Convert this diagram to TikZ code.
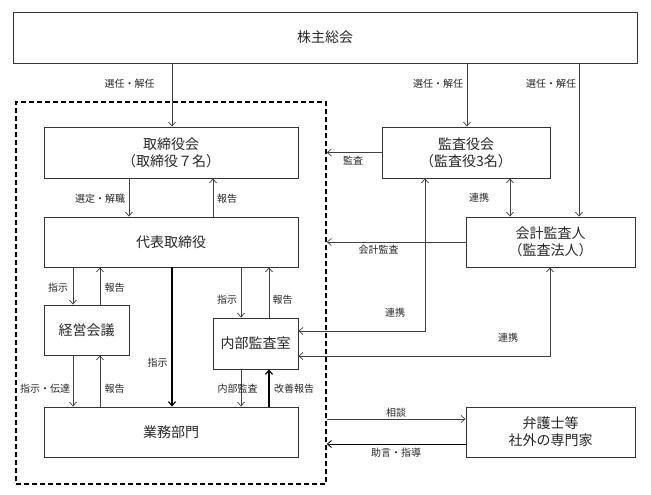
\documentclass[tikz,border=0pt]{standalone}
\usepackage{fontspec}
\setmainfont{Noto Sans CJK JP}
\usetikzlibrary{arrows.meta,calc}
\begin{document}
\begin{tikzpicture}[x=1pt,y=-1pt,
  box/.style 2 args={draw=black!80,line width=0.9pt,minimum width=#1,minimum height=#2,inner sep=0pt,align=center,font=\fontsize{14}{17}\selectfont,text=black!85},
  arr/.style={draw=black!75,line width=0.7pt,-{Straight Barb[length=4pt,width=7pt]}},
  thickarr/.style={draw=black,line width=1.2pt,-{Straight Barb[length=4pt,width=7pt]}},
  biarr/.style={draw=black!75,line width=0.7pt,{Straight Barb[length=4pt,width=7pt]}-{Straight Barb[length=4pt,width=7pt]}},
  lbl/.style={font=\fontsize{10}{12}\selectfont,inner sep=0pt,text=black!85},
  grpbox/.style={draw=black,line width=1.6pt,dash pattern=on 5pt off 3pt,minimum width=310,minimum height=382,inner sep=0pt}
]
\useasboundingbox (0,0) rectangle (651,495);

% group
\node[grpbox] (grp) at (171,293) {};

% boxes
\node[box={624}{51}] (sh) at (325,37.5) {株主総会};
\node[box={254}{51}] (bd) at (171,152.5) {取締役会\\（取締役７名）};
\node[box={168}{51}] (ka) at (466,152.5) {監査役会\\（監査役3名）};
\node[box={254}{50}] (rep) at (171,242) {代表取締役};
\node[box={169}{50}] (aud) at (550.5,242) {会計監査人\\（監査法人）};
\node[box={85}{50}] (mg) at (86.5,330) {経営会議};
\node[box={85}{51}] (ia) at (255.5,343.5) {内部監査室};
\node[box={254}{50}] (ops) at (171,432) {業務部門};
\node[box={169}{50}] (law) at (550.5,432) {弁護士等\\社外の専門家};

% columns and rows
\coordinate (x73) at (73,0);
\coordinate (x100) at (100,0);
\coordinate (x129) at (129,0);
\coordinate (x172) at (172,0);
\coordinate (x213) at (213,0);
\coordinate (x241) at (241,0);
\coordinate (x269) at (269,0);
\coordinate (x425) at (425,0);
\coordinate (x467) at (467,0);
\coordinate (x510) at (510,0);
\coordinate (x550) at (550,0);
\coordinate (x579) at (579,0);
\coordinate (r331) at (0,331);
\coordinate (r356) at (0,356);
\coordinate (r419) at (0,419);
\coordinate (r444) at (0,444);

% connectors
\draw[arr] (sh.south -| x172) -- (bd.north -| x172);
\draw[arr] (sh.south -| x467) -- (ka.north -| x467);
\draw[arr] (sh.south -| x579) -- (aud.north -| x579);
\draw[arr] (bd.south -| x129) -- (rep.north -| x129);
\draw[arr] (rep.north -| x213) -- (bd.south -| x213);
\draw[arr] (ka.west) -- (ka.west -| grp.east);
\draw[biarr] (ka.south -| x510) -- (aud.north -| x510);
\draw[arr] (aud.west) -- (aud.west -| grp.east);
\draw[arr] (rep.south -| x73) -- (mg.north -| x73);
\draw[arr] (mg.north -| x100) -- (rep.south -| x100);
\draw[thickarr] (rep.south -| x172) -- (ops.north -| x172);
\draw[arr] (rep.south -| x241) -- (ia.north -| x241);
\draw[arr] (ia.north -| x269) -- (rep.south -| x269);
\draw[arr] (mg.south -| x73) -- (ops.north -| x73);
\draw[arr] (ops.north -| x100) -- (mg.south -| x100);
\draw[arr] (ia.south -| x241) -- (ops.north -| x241);
\draw[thickarr] (ops.north -| x269) -- (ia.south -| x269);
\draw[biarr] (ka.south -| x425) |- (ia.east |- r331);
\draw[biarr] (aud.south -| x550) |- (ia.east |- r356);
\draw[arr] (grp.east |- r419) -- (law.west |- r419);
\draw[arr,draw=black,line width=0.9pt] (law.west |- r444) -- (grp.east |- r444);

% labels
\node[lbl] (l1) at (129.5,84) {選任・解任};
\node[lbl] (l2) at (438,84) {選任・解任};
\node[lbl] (l3) at (551,84) {選任・解任};
\node[lbl] (l4) at (100,199) {選定・解職};
\node[lbl] (l5) at (227,199) {報告};
\node[lbl] (l6) at (353,161) {監査};
\node[lbl] (l7) at (479,198) {連携};
\node[lbl] (l8) at (378.5,250) {会計監査};
\node[lbl] (l9) at (58,288) {指示};
\node[lbl] (l10) at (114.5,288) {報告};
\node[lbl] (l11) at (227,300) {指示};
\node[lbl] (l12) at (282.5,300) {報告};
\node[lbl] (l13) at (157.5,363) {指示};
\node[lbl] (l14) at (45,389) {指示・伝達};
\node[lbl] (l15) at (114.5,389) {報告};
\node[lbl] (l16) at (237.5,389) {内部監査};
\node[lbl] (l17) at (294,389) {改善報告};
\node[lbl] (l18) at (395,313) {連携};
\node[lbl] (l19) at (508,338) {連携};
\node[lbl] (l20) at (396,413) {相談};
\node[lbl] (l21) at (396,453) {助言・指導};
\end{tikzpicture}
\end{document}
